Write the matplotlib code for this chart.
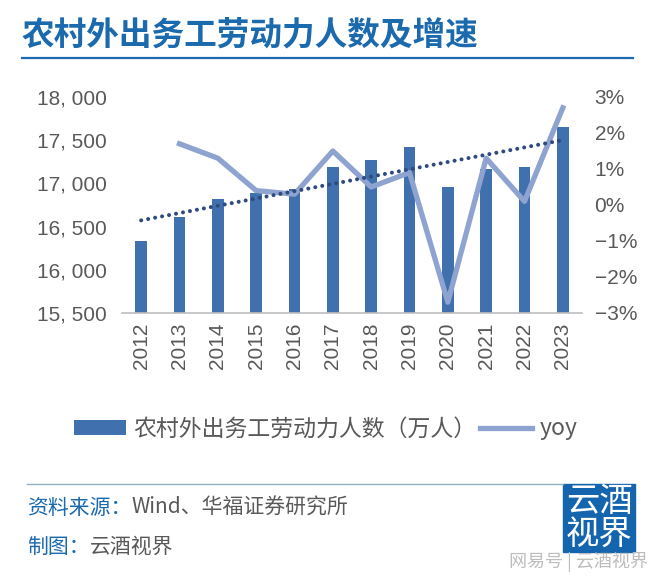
import numpy as np
import matplotlib
matplotlib.use("Agg")
import matplotlib.pyplot as plt
from matplotlib.patches import Rectangle
from matplotlib.ticker import FuncFormatter

years = ["2012", "2013", "2014", "2015", "2016", "2017", "2018", "2019", "2020", "2021", "2022", "2023"]
workers = [16336, 16610, 16821, 16884, 16934, 17185, 17266, 17425, 16959, 17172, 17190, 17658]
yoy = [None, 1.7, 1.3, 0.4, 0.3, 1.5, 0.5, 0.9, -2.7, 1.3, 0.1, 2.7]
left_ticks = [15500, 16000, 16500, 17000, 17500, 18000]
right_ticks = [-3, -2, -1, 0, 1, 2, 3]

title = "农村外出务工劳动力人数及增速"
bar_label = "农村外出务工劳动力人数（万人）"
line_label = "yoy"

CJK = ["Noto Sans CJK SC", "DejaVu Sans"]
NUM = ["Liberation Sans", "DejaVu Sans"]
BLUE_T = "#1B6AAE"
BAR_C = "#4170AE"
LINE_C = "#8EA3CF"
TREND_C = "#2E4A7E"
GRAY = "#595959"

W, H = 660, 581
fig = plt.figure(figsize=(W / 100, H / 100), dpi=100)

def fx(px):
    return px / W

def fy(py):
    return 1 - py / H

ax = fig.add_axes([fx(122), fy(313), fx(582) - fx(122), fy(97) - fy(313)])
x = np.arange(len(years))
bars = ax.bar(x, workers, width=0.31, color=BAR_C, zorder=2, label=bar_label)
ax.set_xlim(-0.5, len(years) - 0.5)
ax.set_ylim(15500, 18000)
ax.set_yticks(left_ticks)
ax.yaxis.set_major_formatter(FuncFormatter(lambda v, p: f"{int(v):,}".replace(",", ", ")))
ax.set_xticks(x)
ax.set_xticklabels(years, rotation=90)
for s in ["top", "left", "right"]:
    ax.spines[s].set_visible(False)
ax.spines["bottom"].set_color("#BFBFBF")
ax.spines["bottom"].set_linewidth(1.2)
ax.tick_params(axis="y", length=0, pad=11, labelsize=15, labelcolor=GRAY)
ax.tick_params(axis="x", length=0, pad=7, labelsize=15, labelcolor=GRAY)
for lab in ax.get_xticklabels() + ax.get_yticklabels():
    lab.set_family(NUM)

# linear trend of bars
coef = np.polyfit(x, workers, 1)

ax2 = ax.twinx()
yx = [i for i, v in enumerate(yoy) if v is not None]
yv = [v for v in yoy if v is not None]
line, = ax2.plot(yx, yv, color=LINE_C, lw=3.8, solid_joinstyle="round", zorder=3, label=line_label)
ax2.set_ylim(-3, 3)
ax2.set_yticks(right_ticks)
ax2.yaxis.set_major_formatter(FuncFormatter(lambda v, p: f"{int(v)}%".replace("-", "\u2212")))
for s in ["top", "left", "right", "bottom"]:
    ax2.spines[s].set_visible(False)
ax2.tick_params(axis="y", length=0, pad=9, labelsize=15, labelcolor=GRAY)
for lab in ax2.get_yticklabels():
    lab.set_family(NUM)
ax.set_zorder(1)
ax2.set_zorder(2)
ax2.patch.set_visible(False)
ax.patch.set_visible(False)

# trend line drawn on top, in the left-axis data coordinates
ax3 = fig.add_axes(ax.get_position(), sharex=ax, sharey=ax, zorder=3)
ax3.axis("off")
ax3.plot(x, np.polyval(coef, x), color=TREND_C, lw=2.9, linestyle=(0, (0.01, 1.75)),
         dash_capstyle="round")

# Title and rule
fig.text(fx(22), fy(35), title, fontsize=23.5, fontweight="bold", color=BLUE_T,
         family=CJK, va="center", ha="left")
fig.add_artist(plt.Line2D([fx(22), fx(633)], [fy(58), fy(58)], color=BLUE_T, lw=1.6))

# Legend
leg = fig.legend(handles=[bars, line], labels=[bar_label, line_label], ncol=2,
                 loc="center left", bbox_to_anchor=(fx(74), fy(429)), frameon=False,
                 borderaxespad=0, borderpad=0, handlelength=2.25, handleheight=0.68,
                 handletextpad=0.35, columnspacing=0.15,
                 prop={"family": CJK, "size": 16.5})
for t in leg.get_texts():
    t.set_color(GRAY)

# Footer
fig.add_artist(plt.Line2D([fx(27), fx(563)], [fy(484), fy(484)], color="#8FB3BE", lw=1.0))
fig.canvas.draw()
r = fig.canvas.get_renderer()
t1 = fig.text(fx(27), fy(508), "资料来源：", fontsize=15, color=BLUE_T, family=CJK, va="center")
bb = t1.get_window_extent(r)
fig.text(bb.x1 / W, fy(508), "Wind、华福证券研究所", fontsize=15, color=GRAY, family=CJK, va="center")
t2 = fig.text(fx(27), fy(547), "制图：", fontsize=15, color=BLUE_T, family=CJK, va="center")
bb2 = t2.get_window_extent(r)
fig.text(bb2.x1 / W, fy(547), "云酒视界", fontsize=15, color=GRAY, family=CJK, va="center")

# Logo
fig.add_artist(Rectangle((fx(563), fy(552)), fx(635) - fx(563), fy(484) - fy(552),
                         transform=fig.transFigure, color="#1565AE"))
fig.text(fx(599), fy(518), "云酒\n视界", fontsize=24, color="white", family=CJK,
         ha="center", va="center", linespacing=0.92)
fig.text(fx(648), fy(562), "网易号 | 云酒视界", fontsize=13, color="#BDBDBD", family=CJK,
         ha="right", va="center")

fig.savefig("out.png", dpi=100)
